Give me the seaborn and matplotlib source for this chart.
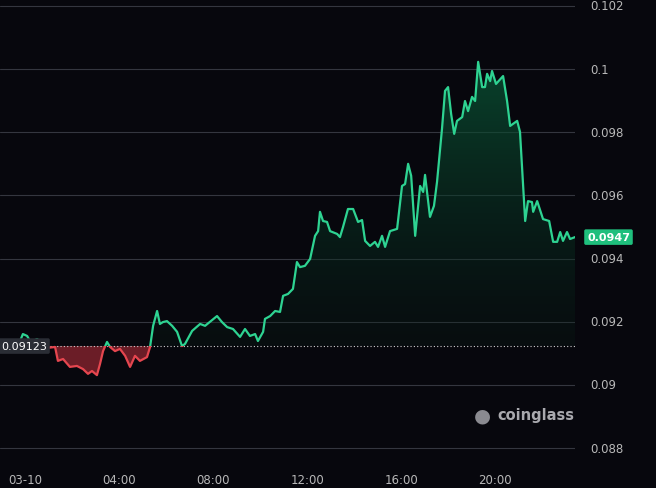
import numpy as np
import pandas as pd
import matplotlib
matplotlib.use("Agg")
import matplotlib.pyplot as plt
import seaborn as sns
from matplotlib.patches import Rectangle
from matplotlib.colors import LinearSegmentedColormap
from matplotlib.path import Path

hours = [-0.21,-0.09,0.09,0.21,0.34,0.51,0.64,0.77,0.94,1.28,1.40,1.62,1.91,2.21,2.47,2.68,2.85,3.06,3.19,3.32,
         3.49,3.62,3.83,4.04,4.26,4.47,4.68,4.89,5.19,5.32,5.45,5.62,5.74,5.87,6.04,6.26,6.47,6.68,6.81,7.11,
         7.45,7.66,7.91,8.17,8.38,8.60,8.85,9.15,9.36,9.57,9.79,9.91,10.13,10.21,10.43,10.64,10.85,10.98,11.19,11.40,
         11.57,11.70,11.91,12.13,12.34,12.47,12.55,12.68,12.85,12.98,13.28,13.40,13.53,13.74,13.96,14.17,14.34,14.47,
         14.68,14.89,15.02,15.19,15.32,15.53,15.83,16.04,16.17,16.30,16.43,16.60,16.81,16.94,17.02,17.23,17.40,17.53,
         17.74,17.87,18.00,18.13,18.26,18.38,18.60,18.72,18.85,19.02,19.15,19.28,19.45,19.57,19.66,19.79,19.87,20.04,
         20.34,20.51,20.64,20.94,21.06,21.28,21.40,21.57,21.62,21.79,22.04,22.30,22.47,22.64,22.77,22.89,23.06,23.19,23.40]
prices = [0.09139,0.09161,0.09155,0.09139,0.09139,0.09145,0.09139,0.09136,0.09117,0.09120,0.09076,0.09082,0.09057,
          0.09060,0.09050,0.09035,0.09044,0.09031,0.09066,0.09107,0.09136,0.09120,0.09107,0.09114,0.09092,0.09057,
          0.09092,0.09076,0.09088,0.09120,0.09187,0.09234,0.09193,0.09199,0.09202,0.09187,0.09168,0.09123,0.09130,
          0.09171,0.09193,0.09187,0.09202,0.09218,0.09199,0.09183,0.09177,0.09152,0.09177,0.09155,0.09161,0.09139,
          0.09168,0.09209,0.09218,0.09234,0.09231,0.09282,0.09288,0.09304,
          0.09389,0.09373,0.09377,0.09399,0.09472,0.09487,0.09548,0.09519,0.09516,0.09487,0.09478,0.09468,0.09500,
          0.09557,0.09557,0.09516,0.09522,0.09456,0.09440,0.09453,0.09437,0.09472,0.09437,0.09487,0.09494,0.09630,
          0.09636,0.09700,0.09662,0.09472,0.09630,0.09611,0.09665,0.09532,0.09567,0.09643,0.09810,0.09931,0.09943,
          0.09858,0.09795,0.09836,0.09848,0.09899,0.09867,0.09912,0.09899,0.10023,0.09943,0.09943,0.09985,0.09962,
          0.09994,0.09953,0.09978,0.09899,0.09820,0.09836,0.09801,0.09519,0.09582,0.09579,0.09548,0.09582,0.09525,
          0.09519,0.09453,0.09453,0.09484,0.09456,0.09484,0.09462,0.09468]
baseline = 0.09123
last_label = "0.0947"
tick_hours = [0, 4, 8, 12, 16, 20]
tick_labels = ["03-10", "04:00", "08:00", "12:00", "16:00", "20:00"]
y_ticks = [0.088, 0.09, 0.092, 0.094, 0.096, 0.098, 0.1, 0.102]
y_labels = ["0.088", "0.09", "0.092", "0.094", "0.096", "0.098", "0.1", "0.102"]

BG = "#07070d"
GREEN = "#2ed392"
RED = "#e5464f"

sns.set_theme(style="dark")
plt.rcParams['font.family'] = ['DejaVu Sans']
df = pd.DataFrame({"h": hours, "p": prices})

fig = plt.figure(figsize=(6.56, 4.89), dpi=100, facecolor=BG)
ax = fig.add_axes([0, 27/489, 575/656, 462/489])
ax.set_facecolor(BG)
x0, x1 = -1.064, 23.40
y0, y1 = 0.08759, 0.10222
ax.set_xlim(x0, x1)
ax.set_ylim(y0, y1)

for yt in y_ticks:
    ax.axhline(yt, color="#34363f", lw=0.8, zorder=0)

h = np.array(hours); p = np.array(prices)
fb = ax.fill_between(h, p, baseline, where=p >= baseline, interpolate=True, color="none", lw=0)
cmap = LinearSegmentedColormap.from_list("g", [(0.04, 0.35, 0.22, 0.75), (0.03, 0.12, 0.09, 0.25)])
grad = np.linspace(0, 1, 256).reshape(-1, 1)
im = ax.imshow(grad, extent=[x0, x1, baseline, 0.1003], aspect="auto", cmap=cmap, origin="upper", zorder=1)
paths = fb.get_paths()
if paths:
    verts = np.concatenate([pp.vertices for pp in paths])
    codes = np.concatenate([pp.codes if pp.codes is not None else np.full(len(pp.vertices), 2) for pp in paths])
    im.set_clip_path(Path(verts, codes), transform=ax.transData)
ax.fill_between(h, p, baseline, where=p < baseline, interpolate=True, color="#8e2531", alpha=0.75, lw=0, zorder=1)

sns.lineplot(data=df, x="h", y="p", ax=ax, color=GREEN, lw=1.6, zorder=3)
sns.lineplot(data=df, x="h", y="p", ax=ax, color=RED, lw=1.6, zorder=3)
lg, lr = ax.lines[-2], ax.lines[-1]
rg = Rectangle((x0, baseline), x1 - x0, y1 - baseline, transform=ax.transData, visible=False)
rr = Rectangle((x0, y0), x1 - x0, baseline - y0, transform=ax.transData, visible=False)
ax.add_patch(rg); ax.add_patch(rr)
lg.set_clip_path(rg); lr.set_clip_path(rr)

ax.axhline(baseline, color="#cfcfcf", lw=0.8, ls=(0, (1, 2)), zorder=2)

ax.set_xticks(tick_hours)
ax.set_xticklabels(tick_labels, color="#b8b8b8", fontsize=8.5)
ax.set_yticks([])
ax.set_xlabel(""); ax.set_ylabel("")
ax.tick_params(axis="x", length=0, pad=9)
for s in ax.spines.values():
    s.set_visible(False)

for yt, yl in zip(y_ticks, y_labels):
    ax.text(1.0 + 15/575, yt, yl, transform=ax.get_yaxis_transform(), color="#b8b8b8",
            fontsize=8.5, va="center", ha="left", clip_on=False)

ax.text(0.002, baseline, "0.09123", transform=ax.get_yaxis_transform(), color="white", fontsize=8,
        va="center", ha="left", zorder=5,
        bbox=dict(boxstyle="round,pad=0.25,rounding_size=0.15", fc="#2a2d35", ec="none"))
ax.text(1.0 + 12/575, prices[-1], last_label, transform=ax.get_yaxis_transform(), color="white",
        fontsize=8, va="center", ha="left", fontweight="bold", clip_on=False, zorder=5,
        bbox=dict(boxstyle="round,pad=0.25,rounding_size=0.15", fc="#1fbf7d", ec="none"))

fig.text(497/656, 1 - 416/489, "coinglass", color="#a9a9ae", fontsize=10.5, fontweight="bold",
         va="center", ha="left")
fig.text(482/656, 1 - 416/489, "●", color="#8a8a90", fontsize=14, va="center", ha="center")

fig.savefig("out.png", dpi=100, facecolor=BG)
